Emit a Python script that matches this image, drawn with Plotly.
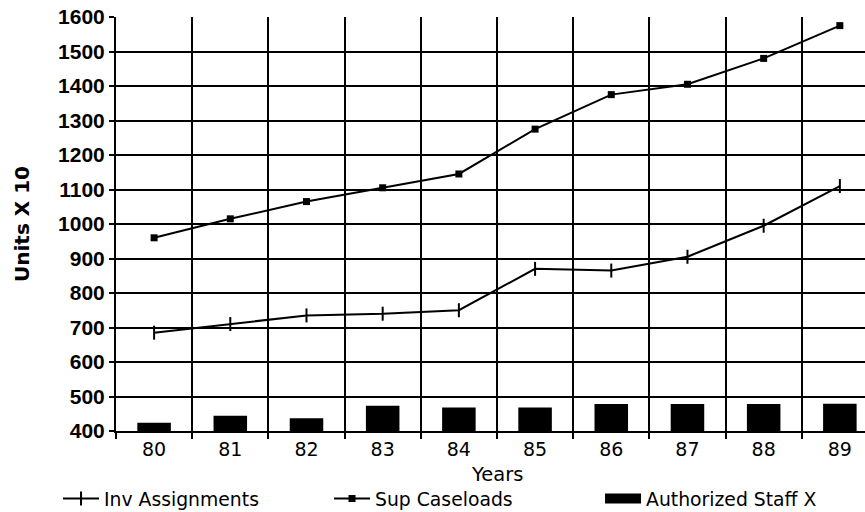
import plotly.graph_objects as go

years = ["80", "81", "82", "83", "84", "85", "86", "87", "88", "89"]
inv_assignments = [685, 710, 735, 740, 750, 870, 865, 905, 995, 1110]
sup_caseloads = [960, 1015, 1065, 1105, 1145, 1275, 1375, 1405, 1480, 1575]
authorized_staff = [424, 444, 437, 473, 468, 468, 478, 478, 478, 479]
y_ticks = list(range(400, 1700, 100))

FONT = "DejaVu Sans"

fig = go.Figure()
fig.add_trace(go.Bar(
    x=years, y=authorized_staff, name="Authorized Staff X", showlegend=False,
    marker=dict(color="black", line=dict(width=0)), width=0.44,
))
fig.add_trace(go.Scatter(
    x=years, y=inv_assignments, name="Inv Assignments", mode="lines+markers",
    line=dict(color="black", width=2), legendrank=1,
    marker=dict(symbol="line-ns", size=10, line=dict(color="black", width=2)),
))
fig.add_trace(go.Scatter(
    x=years, y=sup_caseloads, name="Sup Caseloads", mode="lines+markers",
    line=dict(color="black", width=2), legendrank=2,
    marker=dict(symbol="square", size=7, color="black"),
))
# legend entry for the bars (wide solid swatch as in the original)
fig.add_trace(go.Scatter(
    x=[None], y=[None], name="Authorized Staff X", mode="lines",
    line=dict(color="black", width=15), legendrank=3, hoverinfo="skip",
))

fig.update_layout(
    width=865, height=512,
    margin=dict(l=116, r=0, t=17, b=81, autoexpand=False),
    paper_bgcolor="white", plot_bgcolor="white",
    font=dict(family=FONT, color="black", size=18),
    showlegend=True,
    legend=dict(
        orientation="h", x=-0.0774, xanchor="left", y=-0.118, yanchor="top",
        entrywidth=220, entrywidthmode="pixels", itemwidth=36,
        font=dict(size=18.8, family=FONT),
    ),
    xaxis=dict(
        type="category", categoryorder="array", categoryarray=years,
        range=[-0.5, 9.33], tickson="boundaries",
        showgrid=True, gridcolor="black", gridwidth=2,
        ticks="outside", ticklen=6, tickwidth=2, tickcolor="black",
        showline=True, linecolor="black", linewidth=2,
        tickfont=dict(size=19, family=FONT),
    ),
    yaxis=dict(
        range=[400, 1600], tickvals=y_ticks, ticktext=[str(v) for v in y_ticks],
        showgrid=True, gridcolor="black", gridwidth=2,
        ticks="outside", ticklen=5, tickwidth=2, tickcolor="black",
        showline=True, linecolor="black", linewidth=2,
        tickfont=dict(size=21, family="Liberation Sans", weight="bold"),
        zeroline=False,
    ),
    annotations=[
        dict(text="Years", x=4.5, xref="x", y=-0.104, yref="paper",
             yanchor="middle", showarrow=False, font=dict(size=19.5, family=FONT)),
        dict(text="<b>Units X 10</b>", x=-0.1255, xref="paper", y=0.5, yref="paper",
             xanchor="center", yanchor="middle", textangle=-90, showarrow=False,
             font=dict(size=20, family=FONT)),
    ],
)

fig.write_html("out.html", config={"displayModeBar": False},
               post_script="document.body.style.margin='0';")
